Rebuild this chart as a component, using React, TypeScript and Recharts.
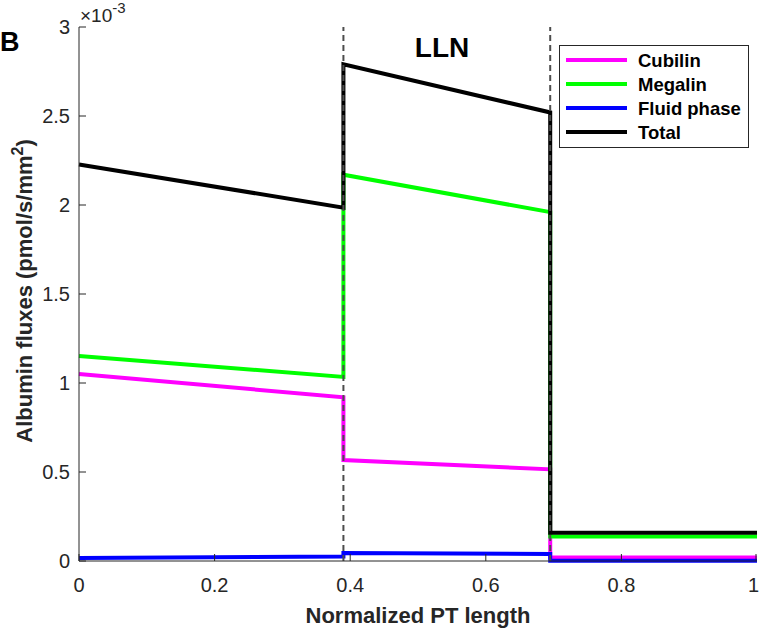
import { LineChart, Line, XAxis, YAxis, ReferenceLine } from "recharts"

// normalized PT length (segment breaks repeated to draw the vertical jumps)
const positions = [0, 0.39, 0.39, 0.695, 0.695, 1]
// fluxes in 10^-3 pmol/s/mm^2
const cubilin = [1.05, 0.92, 0.567, 0.515, 0.02, 0.02]
const megalin = [1.152, 1.034, 2.17, 1.96, 0.137, 0.137]
const fluidPhase = [0.017, 0.025, 0.045, 0.04, 0.002, 0.002]
const total = [2.228, 1.985, 2.79, 2.52, 0.159, 0.159]

const xTicks = [0, 0.2, 0.4, 0.6, 0.8, 1]
const yTicks = [0, 0.5, 1, 1.5, 2, 2.5, 3]
const segmentEdges = [0.39, 0.695]

const seriesKeys = ["cubilin", "megalin", "fluid", "total"]
const seriesNames = ["Cubilin", "Megalin", "Fluid phase", "Total"]
const seriesColors = ["#ff00ff", "#00ff00", "#0000ff", "#000000"]

const data = positions.map((x, i) => ({
  x,
  cubilin: cubilin[i],
  megalin: megalin[i],
  fluid: fluidPhase[i],
  total: total[i],
}))

const AXIS = "#262626"
const FONT = "'Liberation Sans', Arial, Helvetica, sans-serif"
const TICK_LEN = 7
const WIDTH = 760

function BottomTick({ x, y, payload }: any) {
  const axisY = y - 17
  // keep the last label inside the picture
  const atEdge = x + 6 > WIDTH
  return (
    <g>
      <line x1={x} x2={x} y1={axisY} y2={axisY - TICK_LEN} stroke={AXIS} />
      <text
        x={atEdge ? WIDTH - 1 : x}
        y={y}
        dy="0.71em"
        textAnchor={atEdge ? "end" : "middle"}
        fontSize={20}
        fill={AXIS}
        fontFamily={FONT}
      >
        {payload.value}
      </text>
    </g>
  )
}

function LeftTick({ x, y, payload }: any) {
  const axisX = x + 9
  return (
    <g>
      <line x1={axisX} x2={axisX + TICK_LEN} y1={y} y2={y} stroke={AXIS} />
      <text x={x} y={y} dy="0.355em" textAnchor="end" fontSize={20} fill={AXIS} fontFamily={FONT}>
        {payload.value}
      </text>
    </g>
  )
}

function TopTick({ x, y }: any) {
  return <line x1={x} x2={x} y1={y} y2={y + TICK_LEN} stroke={AXIS} />
}

function RightTick({ x, y }: any) {
  return <line x1={x} x2={x - TICK_LEN} y1={y} y2={y} stroke={AXIS} />
}

export default function App() {
  return (
    <div style={{ position: "absolute", left: 0, top: 0, width: 760, height: 629, background: "#fff" }}>
      <LineChart width={760} height={629} data={data} margin={{ top: 27, right: 3, bottom: 0, left: 0 }}>
        <XAxis
          dataKey="x"
          type="number"
          domain={[0, 1]}
          ticks={xTicks}
          height={68}
          tickSize={0}
          tickMargin={17}
          tickLine={false}
          tick={<BottomTick />}
          axisLine={{ stroke: AXIS }}
        />
        <XAxis
          xAxisId="top"
          orientation="top"
          dataKey="x"
          type="number"
          domain={[0, 1]}
          ticks={xTicks}
          height={0}
          tickSize={0}
          tickMargin={0}
          tickLine={false}
          tick={<TopTick />}
          axisLine={{ stroke: AXIS }}
        />
        <YAxis
          type="number"
          domain={[0, 3]}
          ticks={yTicks}
          width={79}
          tickSize={0}
          tickMargin={9}
          tickLine={false}
          tick={<LeftTick />}
          axisLine={{ stroke: AXIS }}
        />
        <YAxis
          yAxisId="right"
          orientation="right"
          type="number"
          domain={[0, 3]}
          ticks={yTicks}
          width={0}
          tickSize={0}
          tickMargin={0}
          tickLine={false}
          tick={<RightTick />}
          axisLine={{ stroke: AXIS }}
        />
        {seriesKeys.map((key, i) => (
          <Line
            key={key}
            dataKey={key}
            type="linear"
            stroke={seriesColors[i]}
            strokeWidth={4}
            dot={false}
            activeDot={false}
            isAnimationActive={false}
          />
        ))}
        {segmentEdges.map((edge) => (
          <ReferenceLine key={edge} x={edge} stroke="#4d4d4d" strokeWidth={2} strokeDasharray="6 4" />
        ))}
      </LineChart>

      <svg
        width={760}
        height={629}
        style={{ position: "absolute", left: 0, top: 0, pointerEvents: "none" }}
        fontFamily={FONT}
      >
        <text x={0} y={51} fontSize={27} fontWeight="bold" fill="#000">B</text>
        <text x={80} y={22} fontSize={19} fill={AXIS}>
          ×10<tspan dy={-9} fontSize={15}>-3</tspan>
        </text>
        <text x={442} y={57} fontSize={28} fontWeight="bold" textAnchor="middle" fill="#000">LLN</text>
        <text transform="translate(32,291) rotate(-90)" fontSize={22} fontWeight="bold" textAnchor="middle" fill={AXIS}>
          Albumin fluxes (pmol/s/mm<tspan dy={-9} fontSize={16}>2</tspan><tspan dy={9}>)</tspan>
        </text>
        <text x={418} y={623} fontSize={22} fontWeight="bold" textAnchor="middle" fill={AXIS}>
          Normalized PT length
        </text>

        <rect x={559.5} y={45.5} width={189} height={102} fill="#fff" stroke={AXIS} strokeWidth={1} />
        {seriesNames.map((name, i) => {
          const rowY = 60 + i * 24
          return (
            <g key={name}>
              <line x1={566} x2={627} y1={rowY} y2={rowY} stroke={seriesColors[i]} strokeWidth={4} />
              <text x={638} y={rowY + 6.8} fontSize={18.5} fontWeight="bold" fill="#000">{name}</text>
            </g>
          )
        })}
      </svg>
    </div>
  )
}
